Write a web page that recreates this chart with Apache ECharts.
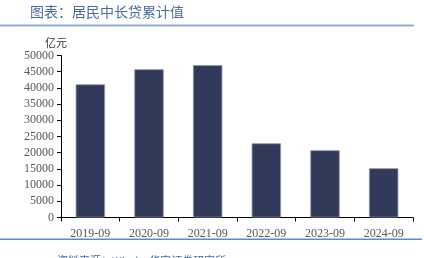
<!DOCTYPE html>
<html><head><meta charset="utf-8">
<script src="https://cdn.jsdelivr.net/npm/echarts@6/dist/echarts.min.js"></script>
<style>html,body{margin:0;padding:0;background:#fff}#c{width:424px;height:258px}</style>
</head><body><div id="c"></div>
<script>
const categories = ['2019-09','2020-09','2021-09','2022-09','2023-09','2024-09'];
const values = [41100, 45750, 47000, 22900, 20750, 15200];
const yTicks = {min: 0, max: 50000, interval: 5000};
const titleText = '图表：居民中长贷累计值';
const unitText = '亿元';
const sourceText = '资料来源：Wind，华安证券研究所';

const chart = echarts.init(document.getElementById('c'), null, {renderer: 'canvas'});
const serif = 'Liberation Serif';
chart.setOption({
  animation: false,
  backgroundColor: '#fff',
  grid: {left: 61, right: 11, top: 55.5, bottom: 40.5, containLabel: false},
  graphic: [
    {type: 'text', left: 30, top: 5, style: {text: titleText, font: '14px "Noto Sans CJK SC"', fill: '#4a6c9e'}},
    {type: 'rect', shape: {x: 0, y: 24.5, width: 414, height: 2}, style: {fill: '#8eabd6'}},
    {type: 'text', left: 45, top: 37, style: {text: unitText, font: '11px "Noto Sans CJK SC"', fill: '#333'}},
    {type: 'rect', shape: {x: 0, y: 238.5, width: 422, height: 1.5}, style: {fill: '#5b8bc9'}},
    {type: 'text', left: 57, top: 255, style: {text: sourceText, font: '11px "Noto Sans CJK SC"', fill: '#4a6c9e'}}
  ],
  xAxis: {
    type: 'category', data: categories,
    axisLine: {lineStyle: {color: '#000', width: 1}},
    axisTick: {show: true, alignWithLabel: false, length: 4, lineStyle: {color: '#000'}},
    axisLabel: {color: '#595959', fontFamily: serif, fontSize: 12, margin: 10}
  },
  yAxis: {
    type: 'value', min: yTicks.min, max: yTicks.max, interval: yTicks.interval,
    splitLine: {show: false},
    axisLine: {show: true, lineStyle: {color: '#000', width: 1}},
    axisTick: {show: true, length: 4, lineStyle: {color: '#000'}},
    axisLabel: {color: '#595959', fontFamily: serif, fontSize: 12, margin: 7, formatter: v => String(v)}
  },
  series: [{
    type: 'bar', data: values, barWidth: '50%',
    itemStyle: {color: '#323a5b', borderColor: '#8c90a8', borderWidth: 0.8}
  }]
});
</script></body></html>
